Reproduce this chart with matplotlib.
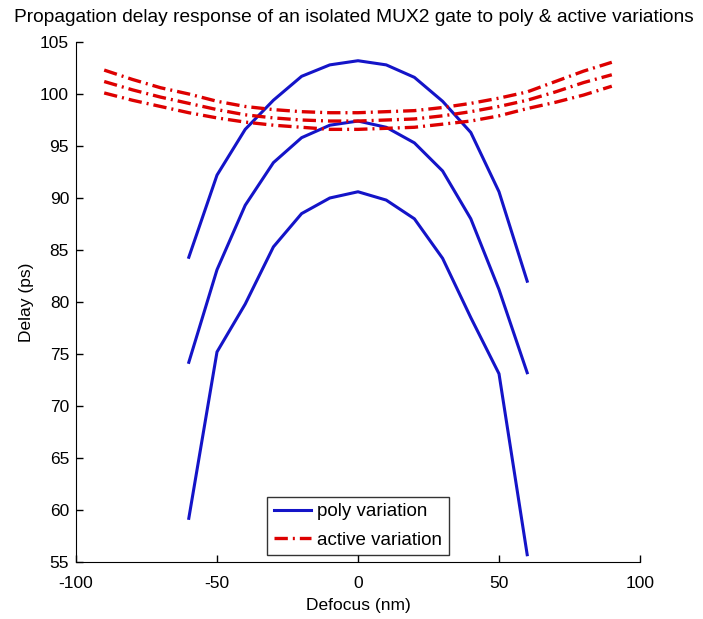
import matplotlib
matplotlib.use("Agg")
import matplotlib.pyplot as plt

plt.rcParams['font.family'] = ['Liberation Sans', 'DejaVu Sans']
plt.rcParams['axes.unicode_minus'] = False

# Data
defocus_poly = [-60, -50, -40, -30, -20, -10, 0, 10, 20, 30, 40, 50, 60]
poly_high = [84.3, 92.2, 96.6, 99.4, 101.7, 102.8, 103.2, 102.8, 101.6, 99.3, 96.3, 90.6, 82.0]
poly_mid = [74.2, 83.1, 89.3, 93.4, 95.8, 97.0, 97.4, 96.8, 95.3, 92.6, 88.0, 81.2, 73.2]
poly_low = [59.2, 75.2, 79.8, 85.3, 88.5, 90.0, 90.6, 89.8, 88.0, 84.2, 78.5, 73.1, 55.7]

defocus_active = [-90, -80, -70, -60, -50, -40, -30, -20, -10, 0, 10, 20, 30, 40, 50, 60, 70, 80, 90]
active_high = [102.3, 101.4, 100.6, 100.0, 99.3, 98.8, 98.5, 98.3, 98.2, 98.2, 98.3, 98.4, 98.7, 99.1, 99.6, 100.2, 101.2, 102.2, 103.05]
active_mid = [101.2, 100.4, 99.7, 99.1, 98.5, 98.0, 97.7, 97.5, 97.4, 97.4, 97.5, 97.6, 97.9, 98.3, 98.8, 99.4, 100.2, 101.1, 101.85]
active_low = [100.1, 99.4, 98.8, 98.2, 97.7, 97.3, 97.0, 96.8, 96.6, 96.6, 96.7, 96.8, 97.1, 97.4, 97.9, 98.6, 99.2, 99.9, 100.75]

xticks = [-100, -50, 0, 50, 100]
yticks = [55, 60, 65, 70, 75, 80, 85, 90, 95, 100, 105]

blue = '#1414c8'
red = '#dd0000'

fig = plt.figure(figsize=(7.03, 6.19), dpi=100)
ax = fig.add_axes([76/703, 1 - 562/619, (640-76)/703, (562-42)/619])

lw = 2.2
l1, = ax.plot(defocus_poly, poly_high, color=blue, lw=lw, label='poly variation')
ax.plot(defocus_poly, poly_mid, color=blue, lw=lw)
ax.plot(defocus_poly, poly_low, color=blue, lw=lw)

dash = (0, (4, 1.5, 0.6, 1.5))
l2, = ax.plot(defocus_active, active_high, color=red, lw=2.4, linestyle=dash, label='active variation')
ax.plot(defocus_active, active_mid, color=red, lw=2.4, linestyle=dash)
ax.plot(defocus_active, active_low, color=red, lw=2.4, linestyle=dash)

ax.set_xlim(-100, 100)
ax.set_ylim(55, 105)
ax.set_xticks(xticks)
ax.set_yticks(yticks)
ax.tick_params(direction='in', length=5, labelsize=12.5, width=1)
ax.tick_params(axis='x', pad=10)
ax.tick_params(axis='y', pad=5)
ax.spines['top'].set_visible(False)
ax.spines['right'].set_visible(False)

ax.set_xlabel('Defocus (nm)', fontsize=12.5, labelpad=5)
ax.set_ylabel('Delay (ps)', fontsize=12.5, labelpad=4)
fig.text(354/703, 1 - 18/619,
         'Propagation delay response of an isolated MUX2 gate to poly & active variations',
         fontsize=13.8, ha='center', va='center')

leg = ax.legend(handles=[l1, l2], loc='lower center', bbox_to_anchor=(0.5, 0.0),
                fontsize=13.5, frameon=True, fancybox=False, edgecolor='black',
                handlelength=2.0, handletextpad=0.3, borderpad=0.35, labelspacing=0.6,
                borderaxespad=0.35)
leg.get_frame().set_linewidth(1.0)

fig.savefig('out.png', dpi=100, facecolor='white')
